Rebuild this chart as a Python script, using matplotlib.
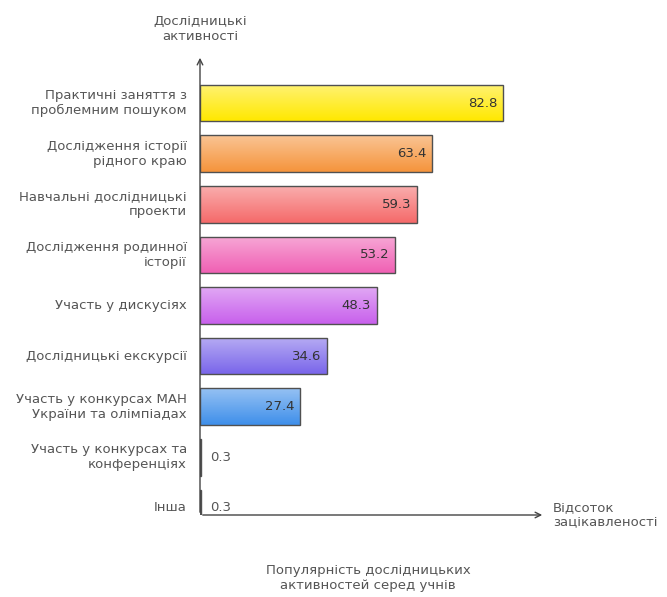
import matplotlib
matplotlib.use("Agg")
import matplotlib.pyplot as plt
import numpy as np
from matplotlib.colors import to_rgb

categories = [
    "Практичні заняття з\nпроблемним пошуком",
    "Дослідження історії\nрідного краю",
    "Навчальні дослідницькі\nпроекти",
    "Дослідження родинної\nісторії",
    "Участь у дискусіях",
    "Дослідницькі екскурсії",
    "Участь у конкурсах МАН\nУкраїни та олімпіадах",
    "Участь у конкурсах та\nконференціях",
    "Інша",
]
values = [82.8, 63.4, 59.3, 53.2, 48.3, 34.6, 27.4, 0.3, 0.3]
colors = ["#ffe800", "#f5943c", "#f56a6a", "#f060b4", "#c860ec",
          "#7a66ea", "#3f8fea", "#d8d8d8", "#d8d8d8"]

FS = 9.5
TXT = "#555555"

W, H = 667, 597
fig = plt.figure(figsize=(W / 100, H / 100), dpi=100)
x0, x1 = 200, 545
y0, y1 = 55, 515
ax = fig.add_axes([x0 / W, 1 - y1 / H, (x1 - x0) / W, (y1 - y0) / H])
ax.set_xlim(0, 94.3)
ax.set_ylim(8.14, -0.95)
for s in ax.spines.values():
    s.set_visible(False)
ax.set_xticks([])
ax.set_yticks([])

bh = 0.72
for i, (cat, v, c) in enumerate(zip(categories, values, colors)):
    rect = ax.barh(i, v, height=bh, color="none", edgecolor="#505050",
                   linewidth=1.0, zorder=3)[0]
    if v > 1:
        # vertical gradient, lighter at the top
        base = np.array(to_rgb(c))
        t = np.linspace(0, 1, 50)[:, None]
        light = base + (1 - base) * 0.45
        grad = light * (1 - t) + base * t
        im = ax.imshow(grad[:, None, :], extent=[0, v, i + bh / 2, i - bh / 2],
                       aspect="auto", zorder=2)
        im.set_clip_path(rect)
        ax.text(v - 1.5, i, f"{v}", ha="right", va="center", fontsize=FS,
                color="#333333", zorder=4)
    else:
        ax.text(v + 2.5, i, f"{v}", ha="left", va="center", fontsize=FS,
                color=TXT, zorder=4)
    ax.text(-3.6, i, cat, ha="right", va="center", fontsize=FS, color=TXT,
            linespacing=1.2)

# axis arrows
ax.annotate("", xy=(0, 1), xytext=(0, 0), xycoords="axes fraction",
            arrowprops=dict(arrowstyle="->", color="#444444", lw=1.0))
ax.annotate("", xy=(1, 0), xytext=(0, 0), xycoords="axes fraction",
            arrowprops=dict(arrowstyle="->", color="#444444", lw=1.0))

fig.text(x0 / W, 1 - 29 / H, "Дослідницькі\nактивності", ha="center",
         va="center", fontsize=FS, color=TXT, linespacing=1.3)
fig.text(553 / W, 1 - 515 / H, "Відсоток\nзацікавленості", ha="left",
         va="center", fontsize=FS, color=TXT, linespacing=1.2)
fig.text(368 / W, 1 - 578 / H, "Популярність дослідницьких\nактивностей серед учнів",
         ha="center", va="center", fontsize=FS, color=TXT, linespacing=1.2)

fig.savefig("out.png", dpi=100, facecolor="white")
